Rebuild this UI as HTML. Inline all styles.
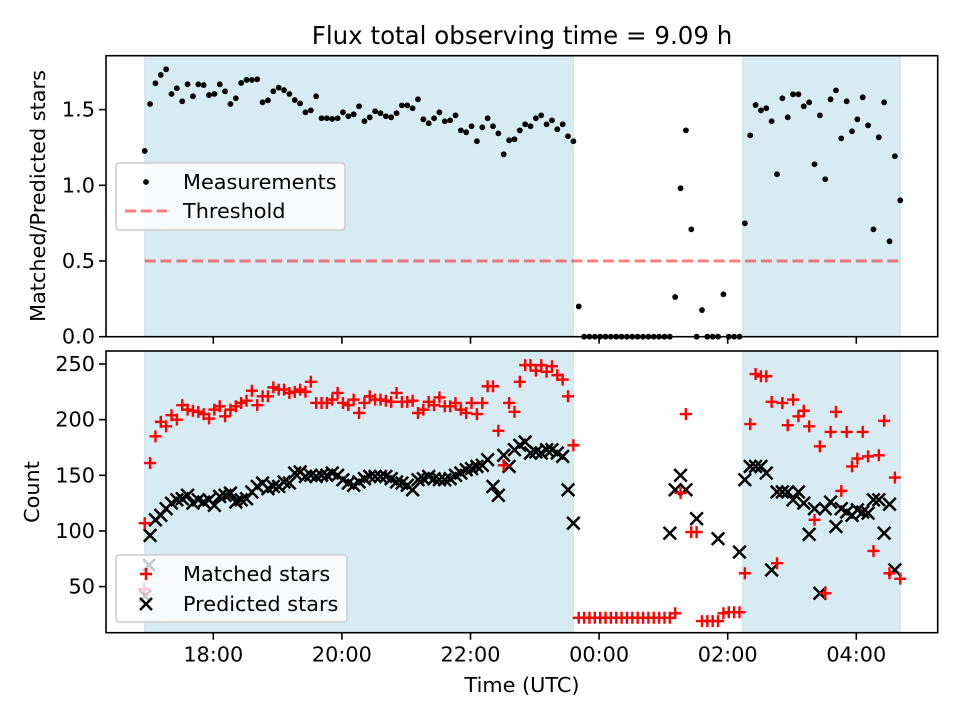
<!DOCTYPE html>
<html><head><meta charset="utf-8">
<style>
html,body{margin:0;padding:0;background:#fff;}
svg{display:block;font-family:"DejaVu Sans","Liberation Sans",sans-serif;}
</style></head>
<body>
<svg id="fig" width="960" height="720" xmlns="http://www.w3.org/2000/svg"></svg>
<script>
// ---- data ----
const timesMin = [56,61,66,71,76,81,86,91,96,101,
106,111,116,121,126,131,136,141,146,151,
156,161,166,171,176,181,186,191,196,201,
206,211,216,221,226,231,236,241,246,251,
256,261,266,271,276,281,286,291,296,301,
306,311,316,321,326,331,336,341,346,351,
356,361,366,371,376,381,386,391,396,401,
406,411,416,421,426,431,436,441,446,451,
456,461,466,471,476,481,486,491,496,501,
506,511,516,521,526,531,536,541,546,551,
556,561,566,571,576,581,586,591,596,601,
606,611,616,621,626,631,636,641,646,651,
656,661,666,671,676,681,686,691,696,701,
706,711,716,721,726,731,736,741,746,751,
756,761];
const ratioValues = [1.227,1.537,1.674,1.729,1.766,1.603,1.641,1.555,1.667,1.588,
1.667,1.662,1.596,1.603,1.667,1.621,1.537,1.575,1.676,1.696,
1.696,1.700,1.548,1.561,1.621,1.645,1.629,1.603,1.563,1.541,
1.482,1.495,1.588,1.443,1.443,1.438,1.443,1.482,1.456,1.469,
1.522,1.423,1.449,1.489,1.476,1.456,1.449,1.476,1.528,1.528,
1.509,1.568,1.436,1.410,1.443,1.482,1.423,1.429,1.462,1.363,
1.350,1.390,1.291,1.383,1.443,1.390,1.343,1.205,1.297,1.304,
1.363,1.403,1.390,1.443,1.462,1.403,1.429,1.370,1.403,1.324,
1.291,0.2,
0,0,0,0,0,0,0,0,0,0,0,0,0,0,0,0,0,
0.262,0.98,1.363,0.709,0,0.176,0,0,0,0.28,0,0,0,
0.749,1.330,1.530,1.495,1.509,1.423,1.073,1.575,1.449,1.601,
1.601,1.522,1.548,1.139,1.462,1.040,1.568,1.627,1.310,1.555,
1.357,1.436,1.581,1.396,0.709,1.317,1.548,0.630,1.192,0.901];
const matchedValues = [107,161,185,
198,194,204,200,213,209,208,207,205,201,
209,212,203,209,212,215,217,226,213,221,
221,229,227,227,224,225,227,225,234,215,
215,215,218,224,215,213,218,206,215,221,
218,218,217,216,224,216,216,217,206,209,216,
213,220,212,212,215,209,206,215,205,215,
230,230,190,159,215,207,234,249,249,244,
249,243,248,240,236,221,177,
22,22,22,22,22,22,22,22,22,22,22,22,22,22,22,22,22,22,
26,134,205,99,99,19,19,19,19,26,27,27,27,62,
196,241,239,239,216,71,215,195,218,203,208,194,110,176,44,189,207,136,189,158,165,189,167,82,168,199,62,148,57];
const predictedValues = [null,
96,110,114,120,125,128,129,132,125,128,126,128,123,131,132,134,126,128,129,
135,140,143,138,140,140,144,143,152,153,149,150,149,150,150,152,150,146,143,141,
144,147,149,149,149,149,147,144,143,141,137,146,147,149,147,146,146,147,150,152,
155,156,158,159,164,140,132,168,158,173,177,180,170,171,170,173,173,170,167,137,
107,
null,null,null,null,null,null,null,null,null,null,null,null,null,null,null,null,null,
98,137,150,137,null,111,null,null,null,93,null,null,null,81,
146,158,158,158,152,65,135,135,135,128,135,125,97,120,44,120,126,104,120,117,114,119,117,116,128,128,98,124,65];
const shadeSpansMin = [[56,456],[614,761]];
const thresholdValue = 0.5;
const xTickMin = [120,240,360,480,600,720];
const xTickLabels = ["18:00","20:00","22:00","00:00","02:00","04:00"];
const topTicks = [0,0.5,1.0,1.5];
const topTickLabels = ["0.0","0.5","1.0","1.5"];
const botTicks = [50,100,150,200,250];
const botTickLabels = ["50","100","150","200","250"];

// ---- layout / scales ----
const L=106, R=937.7;
const T1=55.7, B1=336.7, T2=351, B2=632.7;
const X = m => 213.3 + (m-120)*64.3/60;
const Y1 = v => 336.7 - v*151.4;
const Y2 = v => 364 + (250-v)*1.113;
const NS="http://www.w3.org/2000/svg";
const svg=document.getElementById('fig');
function mk(tag,attrs,parent){const e=document.createElementNS(NS,tag);for(const k in attrs)e.setAttribute(k,attrs[k]);(parent||svg).appendChild(e);return e;}

// title
let t=mk('text',{x:522,y:44,'font-size':24.5,'text-anchor':'middle',fill:'#000'});


t.textContent='Flux total observing time = 9.09 h';

function panel(top,bot,name){
  const g=mk('g',{});
  
  
  shadeSpansMin.forEach(s=>{
    const r=mk('rect',{x:X(s[0]),y:top,width:X(s[1])-X(s[0]),height:bot-top,fill:'#add8e6','fill-opacity':0.5,stroke:'#add8e6','stroke-opacity':0.6,'stroke-width':1},g);
    
    
  });
  return g;
}
const gTop=panel(T1,B1,'top-panel');
const gBot=panel(T2,B2,'bottom-panel');

// threshold
const th=mk('line',{x1:X(timesMin[0]),x2:X(timesMin[timesMin.length-1]),y1:Y1(thresholdValue),y2:Y1(thresholdValue),stroke:'#ff0000','stroke-opacity':0.5,'stroke-width':3,'stroke-dasharray':'11 4.8'},gTop);



// measurements
timesMin.forEach((m,i)=>{
  const v=ratioValues[i]; if(v==null)return;
  const c=mk('circle',{cx:X(m),cy:Y1(v),r:2.9,fill:'#000'},gTop);
  
  
});

function plus(x,y,s,col,op,parent){
  return mk('path',{d:`M${x-s} ${y}H${x+s}M${x} ${y-s}V${y+s}`,stroke:col,'stroke-width':2.4,'stroke-opacity':op||1,fill:'none'},parent);
}
function cross(x,y,s,col,op,parent){
  return mk('path',{d:`M${x-s} ${y-s}L${x+s} ${y+s}M${x-s} ${y+s}L${x+s} ${y-s}`,stroke:col,'stroke-width':2.5,'stroke-opacity':op||1,fill:'none'},parent);
}
timesMin.forEach((m,i)=>{
  const v=predictedValues[i]; if(v==null)return;
  const p=cross(X(m),Y2(v),6.3,'#000',1,gBot);
  
  
});
timesMin.forEach((m,i)=>{
  const v=matchedValues[i]; if(v==null)return;
  const p=plus(X(m),Y2(v),6,'#ff0000',1,gBot);
  
  
});

// axes frames & ticks
function frame(top,bot,name,ticks,labels,ys,showX){
  const r=mk('rect',{x:L,y:top,width:R-L,height:bot-top,fill:'none',stroke:'#000','stroke-width':1.6});
  
  
  ticks.forEach((v,i)=>{
    const y=ys(v);
    mk('line',{x1:L-7,x2:L,y1:y,y2:y,stroke:'#000','stroke-width':1.6});
    const tx=mk('text',{x:L-11,y:y+7,'font-size':20.8,'text-anchor':'end',fill:'#000'});
    
    
    tx.textContent=labels[i];
  });
  xTickMin.forEach((m,i)=>{
    mk('line',{x1:X(m),x2:X(m),y1:bot,y2:bot+7,stroke:'#000','stroke-width':1.6});
    if(showX){
      const tx=mk('text',{x:X(m),y:bot+29,'font-size':20.8,'text-anchor':'middle',fill:'#000'});
      
      
      tx.textContent=xTickLabels[i];
    }
  });
}
frame(T1,B1,'top',topTicks,topTickLabels,Y1,false);
frame(T2,B2,'bottom',botTicks,botTickLabels,Y2,true);

// axis titles
let a=mk('text',{x:0,y:0,'font-size':20.8,'text-anchor':'middle',transform:`translate(45,196) rotate(-90)`,fill:'#000'});


a.textContent='Matched/Predicted stars';
a=mk('text',{x:0,y:0,'font-size':20.8,'text-anchor':'middle',transform:`translate(39,492) rotate(-90)`,fill:'#000'});


a.textContent='Count';
a=mk('text',{x:522,y:692,'font-size':20.8,'text-anchor':'middle',fill:'#000'});


a.textContent='Time (UTC)';

// legends
function legendBox(x,y,w,h,name){
  const r=mk('rect',{x:x,y:y,width:w,height:h,rx:3,fill:'#fff','fill-opacity':0.8,stroke:'#ccc','stroke-width':1.5});
  
  
}
function legText(x,y,s,name){
  const e=mk('text',{x:x,y:y,'font-size':20.8,fill:'#000'});
  
  
  e.textContent=s;
}
legendBox(116,163,229,67,'top-legend');
let lc=mk('circle',{cx:146,cy:182,r:2.9,fill:'#000'});


legText(183,189,'Measurements','legend-measurements-label');
let ll=mk('line',{x1:125,x2:167,y1:211,y2:211,stroke:'#ff0000','stroke-opacity':0.5,'stroke-width':3,'stroke-dasharray':'11 4.8'});


legText(183,218,'Threshold','legend-threshold-label');

legendBox(116,555,231,67,'bottom-legend');
cross(149,565,6,'#000',0.2);
plus(144,589,6,'#ff0000',0.2);
cross(145,596,6,'#000',0.2);
let lm=plus(146,574,6,'#ff0000',1);


legText(183,581,'Matched stars','legend-matched-label');
let lp=cross(146,604,6,'#000',1);


legText(183,611,'Predicted stars','legend-predicted-label');
</script>
</body></html>
